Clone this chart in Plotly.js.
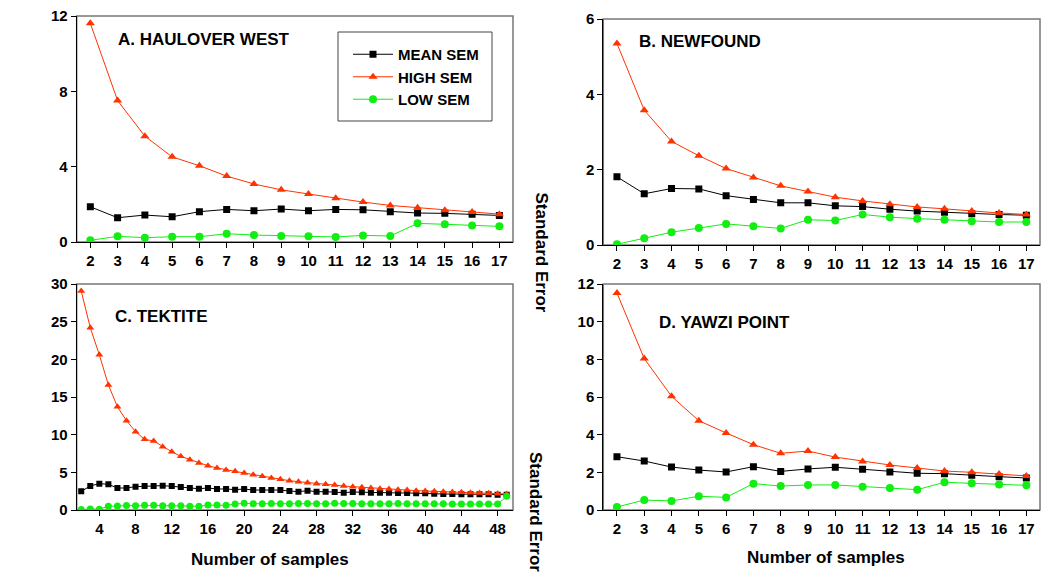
<!DOCTYPE html>
<html>
<head>
<meta charset="utf-8">
<script src="https://cdn.plot.ly/plotly-3.0.1.min.js"></script>
<style>html,body{margin:0;padding:0;background:#fff;}#chart{width:1041px;height:576px;}</style>
</head>
<body>
<div id="chart"></div>
<script>
// ---------- DATA ----------
const samples17 = [2,3,4,5,6,7,8,9,10,11,12,13,14,15,16,17];
const samples49 = [2,3,4,5,6,7,8,9,10,11,12,13,14,15,16,17,18,19,20,21,22,23,24,25,26,27,28,29,30,31,32,33,34,35,36,37,38,39,40,41,42,43,44,45,46,47,48,49];

// A. HAULOVER WEST
const haulMean = [1.87,1.29,1.43,1.34,1.61,1.73,1.66,1.75,1.66,1.73,1.71,1.61,1.54,1.52,1.47,1.41];
const haulHigh = [11.61,7.51,5.62,4.52,4.05,3.50,3.08,2.77,2.55,2.32,2.12,1.94,1.82,1.68,1.59,1.48];
const haulLow  = [0.09,0.30,0.23,0.28,0.28,0.44,0.37,0.32,0.30,0.27,0.35,0.32,0.99,0.94,0.88,0.83];

// B. NEWFOUND
const newMean = [1.81,1.36,1.50,1.49,1.31,1.21,1.12,1.12,1.04,1.02,0.95,0.90,0.87,0.83,0.81,0.79];
const newHigh = [5.35,3.58,2.75,2.37,2.03,1.79,1.57,1.42,1.27,1.17,1.08,1.01,0.96,0.90,0.85,0.81];
const newLow  = [0.02,0.18,0.34,0.45,0.56,0.50,0.44,0.67,0.65,0.81,0.74,0.70,0.67,0.63,0.61,0.61];

// C. TEKTITE
const tekHigh = [29.07,24.2,20.6,16.6,13.7,11.86,10.4,9.38,9.16,8.4,7.74,7.12,6.68,6.24,5.88,5.58,5.31,5.13,4.91,4.69,4.47,4.25,4.07,3.89,3.76,3.63,3.50,3.41,3.32,3.19,3.10,3.01,2.92,2.83,2.79,2.70,2.65,2.57,2.52,2.48,2.43,2.39,2.35,2.30,2.26,2.21,2.17,2.12];
const tekMean = [2.48,3.19,3.50,3.41,2.92,2.92,3.10,3.19,3.19,3.23,3.19,3.05,2.92,2.83,2.92,2.79,2.79,2.70,2.79,2.65,2.65,2.65,2.65,2.52,2.43,2.57,2.43,2.43,2.39,2.30,2.39,2.35,2.30,2.30,2.30,2.26,2.26,2.21,2.21,2.17,2.12,2.12,2.08,2.08,2.08,2.08,2.04,2.04];
const tekLow  = [0.05,0.13,0.10,0.50,0.52,0.60,0.55,0.62,0.62,0.58,0.58,0.55,0.50,0.50,0.65,0.65,0.62,0.80,0.88,0.84,0.84,0.86,0.84,0.84,0.86,0.86,0.84,0.82,0.88,0.86,0.86,0.84,0.82,0.82,0.82,0.86,0.84,0.82,0.84,0.82,0.82,0.80,0.80,0.80,0.78,0.80,0.78,1.81];

// D. YAWZI POINT
const yawHigh = [11.52,8.04,6.04,4.74,4.09,3.47,3.01,3.13,2.81,2.58,2.39,2.23,2.07,2.00,1.91,1.81];
const yawMean = [2.83,2.60,2.28,2.12,2.02,2.30,2.05,2.18,2.27,2.16,2.02,1.95,1.93,1.84,1.77,1.70];
const yawLow  = [0.16,0.53,0.48,0.73,0.67,1.40,1.27,1.33,1.33,1.24,1.17,1.08,1.47,1.42,1.36,1.31];

const seriesNames = ["MEAN SEM","HIGH SEM","LOW SEM"];
const panelLabels = ["A. HAULOVER WEST","B. NEWFOUND","C. TEKTITE","D. YAWZI POINT"];
const axisTitle = "Number of samples";
const yTitle = "Standard Error";

// ---------- STYLE ----------
const FONT = "Liberation Sans, Arial, sans-serif";
const colMean = "#000000", colHigh = "#ff3300", colLow = "#11ee11";

function trio(x, mean, high, low, xa, ya, showLeg, msz) {
  return [
    {x:x, y:mean, xaxis:xa, yaxis:ya, name:seriesNames[0], type:"scatter", mode:"lines+markers",
     line:{color:colMean,width:1}, marker:{symbol:"square",size:msz,color:colMean}, showlegend:showLeg},
    {x:x, y:high, xaxis:xa, yaxis:ya, name:seriesNames[1], type:"scatter", mode:"lines+markers",
     line:{color:colHigh,width:1}, marker:{symbol:"triangle-up",size:msz+1,color:colHigh}, showlegend:showLeg},
    {x:x, y:low, xaxis:xa, yaxis:ya, name:seriesNames[2], type:"scatter", mode:"lines+markers",
     line:{color:colLow,width:1}, marker:{symbol:"circle",size:msz+1,color:colLow}, showlegend:showLeg}
  ];
}

const data = [].concat(
  trio(samples17, haulMean, haulHigh, haulLow, "x", "y", true, 7),
  trio(samples17, newMean, newHigh, newLow, "x2", "y2", false, 7),
  trio(samples49, tekMean, tekHigh, tekLow, "x3", "y3", false, 6),
  trio(samples17, yawMean, yawHigh, yawLow, "x4", "y4", false, 7)
);

const W = 1041, H = 576;
const px = v => v / W, py = v => 1 - v / H;
const tickFont = {family:FONT, size:15, color:"#000", weight:"bold"};
const bold = s => ({family:FONT, size:s, color:"#000", weight:"bold"});

function xax(domain, range, tick0, dtick, anchor) {
  return {domain:domain, range:range, tick0:tick0, dtick:dtick, anchor:anchor,
    showline:true, linecolor:"#000", linewidth:1, ticks:"outside", ticklen:5, tickcolor:"#000",
    showgrid:false, zeroline:false, tickfont:tickFont, fixedrange:true};
}
function yax(domain, range, dtick, anchor) {
  return {domain:domain, range:range, dtick:dtick, tick0:0, anchor:anchor,
    showline:true, linecolor:"#000", linewidth:1, ticks:"outside", ticklen:5, tickcolor:"#000",
    showgrid:false, zeroline:false, tickfont:tickFont, fixedrange:true};
}
function frame(n) {
  return {type:"rect", xref:"x"+n+" domain", yref:"y"+n+" domain", x0:0,x1:1,y0:0,y1:1,
          line:{color:"#777",width:1.5}, layer:"below"};
}
function label(text, x, y, xanchor, size, angle) {
  return {text:text, xref:"paper", yref:"paper", x:px(x), y:py(y), xanchor:xanchor, yanchor:"middle",
          textangle:angle || 0, showarrow:false, font:bold(size)};
}

const dxL = [px(76.7), px(513)], dxR = [px(603.3), px(1040)];
const layout = {
  width:W, height:H, margin:{l:0,r:0,t:0,b:0}, paper_bgcolor:"#fff", plot_bgcolor:"#fff",
  font:{family:FONT,color:"#000"},
  xaxis: xax(dxL, [1.5,17.5], 2, 1, "y"),
  yaxis: yax([py(242), py(16)], [0,12], 4, "x"),
  xaxis2: xax(dxR, [1.5,17.5], 2, 1, "y2"),
  yaxis2: yax([py(245), py(19)], [0,6], 2, "x2"),
  xaxis3: xax(dxL, [1.5,49.7], 4, 4, "y3"),
  yaxis3: yax([py(510), py(284)], [0,30], 5, "x3"),
  xaxis4: xax(dxR, [1.5,17.5], 2, 1, "y4"),
  yaxis4: yax([py(510), py(284)], [0,12], 2, "x4"),
  legend:{x:px(348), y:py(38), xanchor:"left", yanchor:"top", bgcolor:"rgba(0,0,0,0)",
    borderwidth:0, font:bold(15), itemwidth:40, tracegroupgap:0},
  shapes:[
    frame(""), frame("2"), frame("3"), frame("4"),
    {type:"rect", xref:"paper", yref:"paper", x0:px(338), x1:px(492), y0:py(121), y1:py(32),
     line:{color:"#444",width:1}, fillcolor:"#fff", layer:"below"}
  ],
  annotations:[
    label(panelLabels[0], 116, 40, "left", 17),
    label(panelLabels[1], 637, 42, "left", 17),
    label(panelLabels[2], 113, 316, "left", 17),
    label(panelLabels[3], 657, 322, "left", 17),
    label(axisTitle, 270, 559, "center", 17),
    label(axisTitle, 826, 557, "center", 17),
    label(yTitle, 541.5, 252, "center", 17, 90),
    label(yTitle, 536, 512, "center", 17, 90)
  ]
};

Plotly.newPlot("chart", data, layout, {displayModeBar:false, staticPlot:true});
</script>
</body>
</html>
